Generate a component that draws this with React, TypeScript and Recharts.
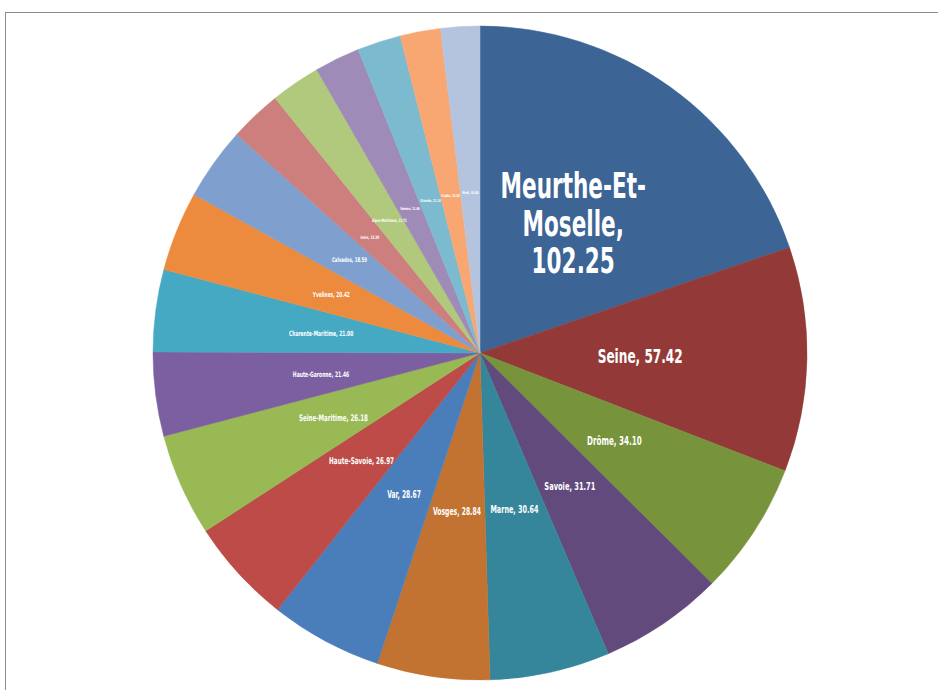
import React from 'react';
import { PieChart, Pie, Cell } from 'recharts';

// departments, clockwise from 12 o'clock
const departments = [
  'Meurthe-Et-Moselle', 'Seine', 'Drôme', 'Savoie', 'Marne', 'Vosges', 'Var',
  'Haute-Savoie', 'Seine-Maritime', 'Haute-Garonne', 'Charente-Maritime', 'Yvelines',
  'Calvados', 'Isère', 'Alpes-Maritimes', 'Somme', 'Gironde', 'Doubs', 'Nord',
];

const values = [
  102.25, 57.42, 34.1, 31.71, 30.64, 28.84, 28.67,
  26.97, 26.18, 21.46, 21.0, 20.42,
  18.59, 13.3, 12.71, 11.6, 11.14, 10.3, 10.0,
];

const colors = [
  '#3c6495', '#933a38', '#77933c', '#624a7d', '#35869b', '#c27331', '#4a7ebb',
  '#bd4b48', '#98b954', '#7c5fa0', '#46a9c4', '#ec8b3e',
  '#7f9fcf', '#cd7f7d', '#b0c97c', '#9f8bb7', '#7cbad0', '#f8a772', '#b4c4df',
];

const data = departments.map((name, i) => ({ name, value: values[i] }));

const RAD = Math.PI / 180;

// Excel wraps the big label, keep that for the large slice only
const wrapLabel = (text: string, maxChars: number) => {
  const parts = text.replace(/-/g, '-\u0000').split(/\u0000| /);
  const lines: string[] = [];
  let cur = '';
  parts.forEach((p) => {
    const sep = cur === '' || cur.endsWith('-') ? '' : ' ';
    if ((cur + sep + p).length > maxChars && cur !== '') {
      lines.push(cur);
      cur = p;
    } else {
      cur = cur + sep + p;
    }
  });
  if (cur) lines.push(cur);
  return lines;
};

const renderLabel = (props: any) => {
  const { cx, cy, midAngle, outerRadius, name, value } = props;
  const r = outerRadius * 0.49;
  const x = cx + r * Math.cos(-midAngle * RAD);
  const y = cy + r * Math.sin(-midAngle * RAD);
  const fontSize = Math.max(4, value * 0.345);
  const text = `${name}, ${value.toFixed(2)}`;
  const lines = fontSize > 25 ? wrapLabel(text, 11) : [text];
  const lh = fontSize * 1.05;
  const y0 = y - ((lines.length - 1) * lh) / 2;
  return (
    <text
      x={x}
      y={y0}
      fill="#ffffff"
      textAnchor="middle"
      dominantBaseline="central"
      fontSize={fontSize}
      fontWeight="bold"
      fontFamily="'DejaVu Sans Condensed', 'Roboto', sans-serif"
      transform={`translate(${x} ${y}) scale(0.68 1) translate(${-x} ${-y})`}
    >
      {lines.map((l, i) => (
        <tspan key={i} x={x} dy={i === 0 ? 0 : lh}>
          {l}
        </tspan>
      ))}
    </text>
  );
};

export default function App() {
  return (
    <div style={{ position: 'absolute', left: 0, top: 0, width: 938, height: 690, background: '#fff', overflow: 'hidden' }}>
      <div
        style={{
          position: 'absolute',
          left: 5,
          top: 12,
          width: 960,
          height: 700,
          border: '1px solid #8c8c8c',
        }}
      />
      <div style={{ position: 'absolute', left: 0, top: 0 }}>
        <PieChart width={938} height={690} margin={{ top: 0, right: 0, bottom: 0, left: 0 }}>
          <Pie
            data={data}
            dataKey="value"
            nameKey="name"
            cx={480}
            cy={353}
            outerRadius={327}
            startAngle={90}
            endAngle={-270}
            label={renderLabel}
            labelLine={false}
            isAnimationActive={false}
          >
            {data.map((d, i) => (
              <Cell key={d.name} fill={colors[i]} stroke={colors[i]} strokeWidth={0.5} />
            ))}
          </Pie>
        </PieChart>
      </div>
    </div>
  );
}
